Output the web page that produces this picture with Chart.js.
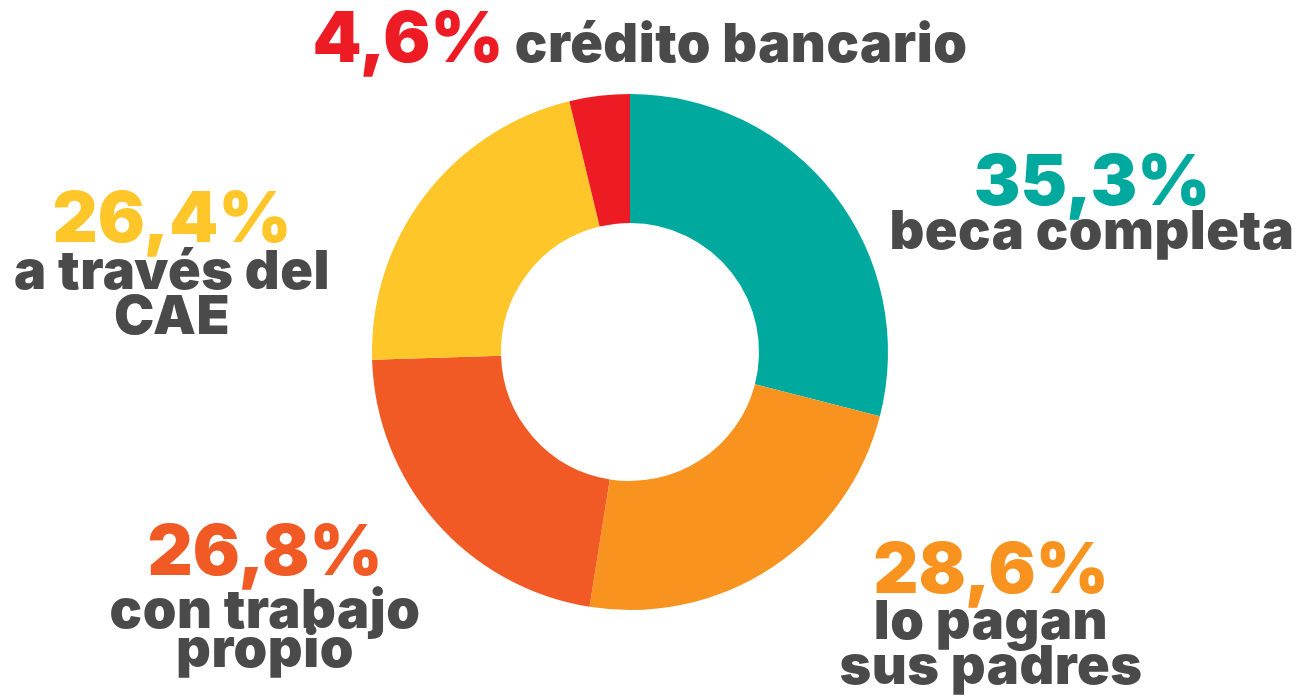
<!DOCTYPE html>
<html>
<head>
<meta charset="utf-8">
<script src="https://cdn.jsdelivr.net/npm/chart.js@4"></script>
<style>
  html, body { margin: 0; padding: 0; background: #fff; }
  #wrap { position: relative; width: 1299px; height: 700px; overflow: hidden; }
  #wrap canvas { position: absolute; left: 0; top: 0; }
  .lbl {
    position: absolute;
    white-space: nowrap;
    transform: translateX(-50%);
    font-family: Inter, "Open Sans", sans-serif;
    font-weight: 900;
    line-height: 1;
    color: #4a4a4a;
  }
  .txt { letter-spacing: 0.5px; }
</style>
</head>
<body>
<div id="wrap">
  <canvas id="donut" width="1299" height="700"></canvas>
</div>
<script>
// Slices, clockwise from 12 o'clock
const categories = ['beca completa', 'lo pagan sus padres', 'con trabajo propio', 'a través del CAE', 'crédito bancario'];
const values = [35.3, 28.6, 26.8, 26.4, 4.6];
const colors = ['#00a99d', '#f7931e', '#f15a24', '#ffc629', '#ed1c24'];
// how each label is broken into lines
const labelLines = [
    ['beca completa'],
    ['lo pagan', 'sus padres'],
    ['con trabajo', 'propio'],
    ['a través del', 'CAE'],
    ['crédito bancario']
];

// label placement (center x, baselines)
const labelPos = [
    { x: 1092, pct: 205, lines: [250] },
    { x: 991, pct: 593, lines: [640, 685] },
    { x: 265, pct: 575, lines: [629, 668] },
    { x: 172, pct: 242, lines: [290, 335] },
    { x: 640, pct: 62, inline: true }
];

const PCT_SIZE = 70;
const TXT_SIZE = 54;
const wrap = document.getElementById('wrap');

function fmt(v) {
    return v.toFixed(1).replace('.', ',') + '%';
}

function addText(text, cx, baseline, size, color) {
    const el = document.createElement('div');
    el.className = 'lbl';
    el.textContent = text;
    el.style.fontSize = size + 'px';
    el.style.color = color;
    el.style.left = cx + 'px';
    el.style.top = (baseline - 0.8635 * size) + 'px';
    wrap.appendChild(el);
    return el;
}

values.forEach((v, i) => {
    const pos = labelPos[i];
    if (pos.inline) {
        const el = addText('', pos.x, pos.pct, PCT_SIZE, colors[i]);
        const a = document.createElement('span');
        a.textContent = fmt(v);
        const b = document.createElement('span');
        b.className = 'txt';
        b.textContent = ' ' + labelLines[i].join(' ');
        b.style.fontSize = TXT_SIZE + 'px';
        b.style.color = '#4a4a4a';
        el.appendChild(a);
        el.appendChild(b);
        return;
    }
    addText(fmt(v), pos.x, pos.pct, PCT_SIZE, colors[i]);
    labelLines[i].forEach((line, j) => {
        addText(line, pos.x, pos.lines[j], TXT_SIZE, '#4a4a4a').classList.add('txt');
    });
});

new Chart(document.getElementById('donut').getContext('2d'), {
    type: 'doughnut',
    data: {
        labels: categories,
        datasets: [{
            data: values,
            backgroundColor: colors,
            borderWidth: 0
        }]
    },
    options: {
        responsive: false,
        animation: false,
        cutout: '50%',
        layout: { padding: { top: 94, bottom: 90, left: 300, right: 339 } },
        plugins: {
            legend: { display: false },
            tooltip: { enabled: false }
        }
    }
});
</script>
</body>
</html>
